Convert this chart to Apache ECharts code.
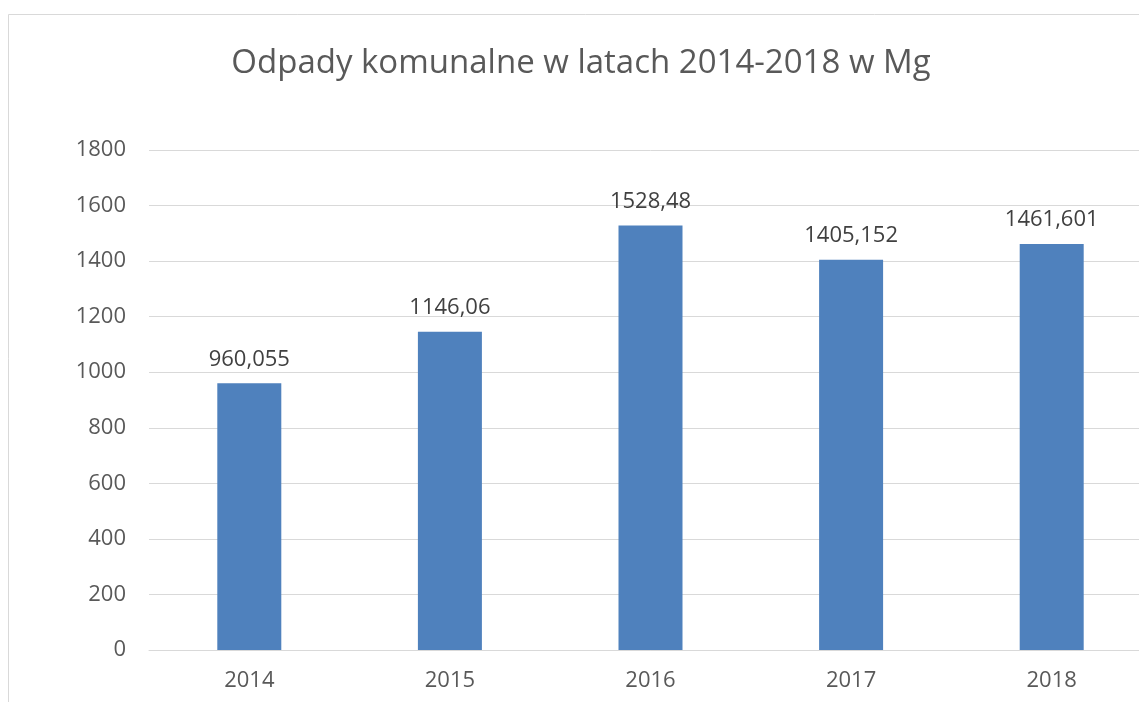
<!DOCTYPE html>
<html><head><meta charset="utf-8">
<script src="https://cdn.jsdelivr.net/npm/echarts@6/dist/echarts.min.js"></script>
<style>html,body{margin:0;padding:0;background:#fff;overflow:hidden}#c{width:1162px;height:702px}</style>
</head><body><div id="c"></div>
<script>
var categories = ['2014', '2015', '2016', '2017', '2018'];
var values = [960.055, 1146.06, 1528.48, 1405.152, 1461.601];
var valueLabels = ['960,055', '1146,06', '1528,48', '1405,152', '1461,601'];
var titleText = 'Odpady komunalne w latach 2014-2018 w Mg';

var FONT = 'Open Sans';
var chart = echarts.init(document.getElementById('c'), null, {renderer: 'canvas'});
chart.setOption({
  backgroundColor: '#ffffff',
  animation: false,
  graphic: [{
    type: 'rect', silent: true,
    shape: {x: 8.5, y: 14.5, width: 1300, height: 900},
    style: {fill: 'none', stroke: '#d9d9d9', lineWidth: 1}
  }],
  title: {
    text: titleText, left: 'center', top: 42,
    textStyle: {fontFamily: FONT, fontSize: 33, fontWeight: 'normal', color: '#595959'}
  },
  grid: {left: 149, top: 150, right: 10, bottom: 52},
  xAxis: {
    type: 'category', data: categories,
    axisLine: {show: true, lineStyle: {color: '#d9d9d9', width: 1}},
    axisTick: {show: false},
    axisLabel: {fontFamily: FONT, fontSize: 22, color: '#595959', margin: 20}
  },
  yAxis: {
    type: 'value', min: 0, max: 1800, interval: 200,
    axisLine: {show: false}, axisTick: {show: false},
    splitLine: {lineStyle: {color: '#d9d9d9', width: 1}},
    axisLabel: {fontFamily: FONT, fontSize: 22, color: '#595959', margin: 23,
      formatter: function (v) { return String(v); }}
  },
  series: [{
    type: 'bar', data: values, barWidth: 64,
    itemStyle: {color: '#4f81bd'},
    label: {
      show: true, position: 'top', distance: 13,
      fontFamily: FONT, fontSize: 22, color: '#404040',
      formatter: function (p) { return valueLabels[p.dataIndex]; }
    }
  }]
});
</script></body></html>
